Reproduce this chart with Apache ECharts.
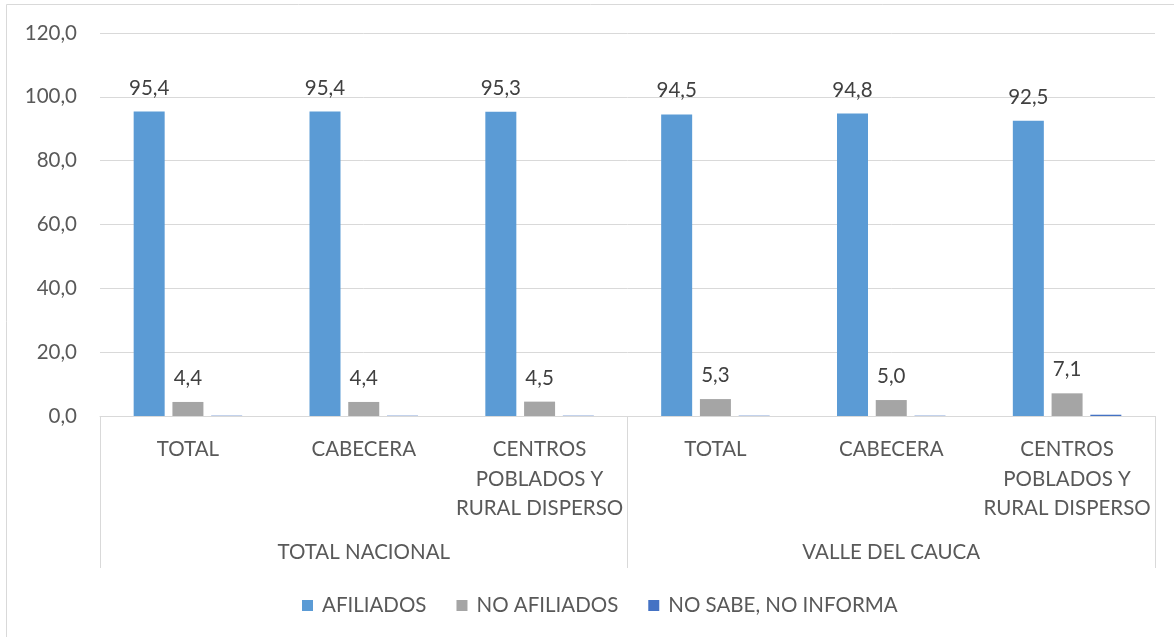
<!DOCTYPE html>
<html>
<head>
<meta charset="utf-8">
<script src="https://cdn.jsdelivr.net/npm/echarts@6/dist/echarts.min.js"></script>
<style>html,body{margin:0;padding:0;background:#fff}#c{width:1174px;height:637px}</style>
</head>
<body>
<div id="c"></div>
<script>
const categories = ['TOTAL', 'CABECERA', 'CENTROS\nPOBLADOS Y\nRURAL DISPERSO', 'TOTAL', 'CABECERA', 'CENTROS\nPOBLADOS Y\nRURAL DISPERSO'];
const groups = ['TOTAL NACIONAL', 'VALLE DEL CAUCA'];
const seriesNames = ['AFILIADOS', 'NO AFILIADOS', 'NO SABE, NO INFORMA'];
const afiliados = [95.4, 95.4, 95.3, 94.5, 94.8, 92.5];
const noAfiliados = [4.4, 4.4, 4.5, 5.3, 5.0, 7.1];
const noSabe = [0.1, 0.1, 0.1, 0.1, 0.1, 0.4];
const yTicks = [0, 20, 40, 60, 80, 100, 120];

const FONT = 'Lato';
const FS = 20.5;
const TXT = '#595959';
const chart = echarts.init(document.getElementById('c'), null, {renderer: 'canvas'});
const fmt = v => v.toFixed(1).replace('.', ',');
const lbl = {show: true, position: 'top', distance: 13, color: '#404040', fontFamily: FONT, fontSize: FS, formatter: p => fmt(p.value)};
chart.setOption({
  animation: false,
  textStyle: {fontFamily: FONT},
  graphic: [{type: 'rect', shape: {x: 6.5, y: 4.5, width: 1200, height: 700}, style: {fill: 'none', stroke: '#D9D9D9', lineWidth: 1}, silent: true}],
  legend: {
    left: 297, top: 590, itemWidth: 11, itemHeight: 11, itemGap: 30, icon: 'rect',
    textStyle: {color: TXT, fontFamily: FONT, fontSize: FS, padding: [0, 0, 0, 4]},
    data: seriesNames
  },
  grid: {left: 100, right: 19, top: 33, bottom: 221, containLabel: false},
  xAxis: [
    {type: 'category', data: categories, position: 'bottom',
     axisLine: {show: true, lineStyle: {color: '#D9D9D9', width: 1}},
     axisTick: {show: false},
     axisLabel: {color: TXT, fontFamily: FONT, fontSize: FS, lineHeight: 29.5, margin: 19, interval: 0, align: 'center'}},
    {type: 'category', data: groups, position: 'bottom',
     axisLine: {show: false},
     axisTick: {show: true, length: 152, lineStyle: {color: '#D9D9D9', width: 1}},
     axisLabel: {color: TXT, fontFamily: FONT, fontSize: FS, margin: 126}}
  ],
  yAxis: {
    type: 'value', min: 0, max: 120, interval: 20,
    axisLine: {show: false}, axisTick: {show: false},
    splitLine: {lineStyle: {color: '#D9D9D9', width: 1}},
    axisLabel: {color: TXT, fontFamily: FONT, fontSize: FS, margin: 23, formatter: v => yTicks.includes(v) ? fmt(v) : ''}
  },
  series: [
    {name: seriesNames[0], type: 'bar', data: afiliados, barWidth: 31, barGap: '25%', itemStyle: {color: '#5B9BD5'}, label: lbl},
    {name: seriesNames[1], type: 'bar', data: noAfiliados, barWidth: 31, barGap: '25%', itemStyle: {color: '#A5A5A5'}, label: lbl},
    {name: seriesNames[2], type: 'bar', data: noSabe, barWidth: 31, barGap: '25%', itemStyle: {color: '#4472C4'}}
  ]
});
</script>
</body>
</html>
